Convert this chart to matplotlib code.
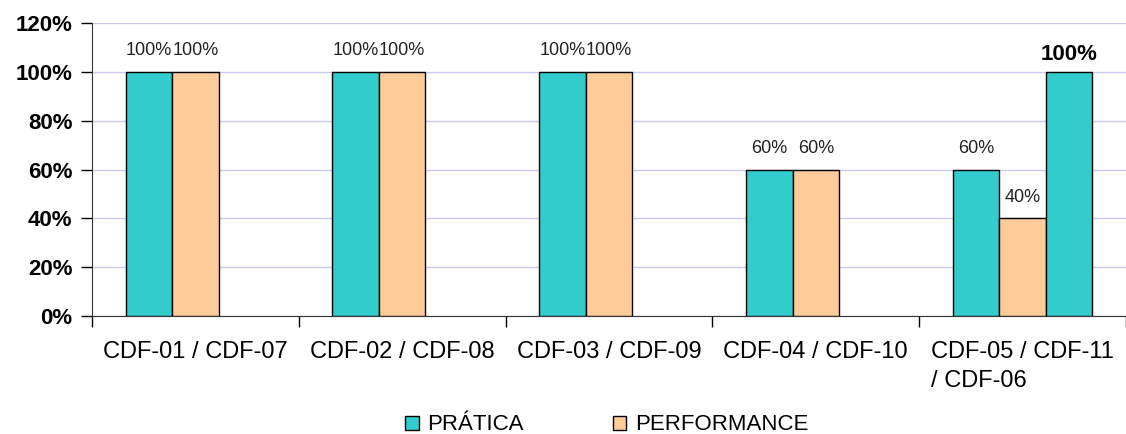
import matplotlib
matplotlib.use("Agg")
import matplotlib.pyplot as plt
import numpy as np
from matplotlib.ticker import FixedLocator, PercentFormatter

categories = ["CDF-01 / CDF-07", "CDF-02 / CDF-08", "CDF-03 / CDF-09",
              "CDF-04 / CDF-10", "CDF-05 / CDF-11\n/ CDF-06"]
pratica = [1.0, 1.0, 1.0, 0.6, 0.6]
performance = [1.0, 1.0, 1.0, 0.6, 0.4]
extra = [np.nan, np.nan, np.nan, np.nan, 1.0]
yticks = [0, 0.2, 0.4, 0.6, 0.8, 1.0, 1.2]

TEAL = "#33CCCC"
PEACH = "#FFCC99"

plt.rcParams['font.family'] = ['Liberation Sans', 'DejaVu Sans']

fig = plt.figure(figsize=(11.26, 4.34), dpi=100)
ax = fig.add_axes([92/1126, 1-316/434, 1034/1126, (316-23)/434])

x = np.arange(len(categories))
w = 0.225
b1 = ax.bar(x - w, pratica, w, color=TEAL, edgecolor="black", linewidth=1, label="PRÁTICA", zorder=3)
b2 = ax.bar(x, performance, w, color=PEACH, edgecolor="black", linewidth=1, label="PERFORMANCE", zorder=3)
b3 = ax.bar(x + w, extra, w, color=TEAL, edgecolor="black", linewidth=1, label="_nolegend_", zorder=3)

for bars, vals in ((b1, pratica), (b2, performance)):
    for r, v in zip(bars, vals):
        ax.annotate(f"{v*100:.0f}%", (r.get_x() + r.get_width()/2, v),
                    xytext=(0, 9), textcoords="offset points", ha="center", va="bottom",
                    fontsize=13, color="#222222")
for r, v in zip(b3, extra):
    if not np.isnan(v):
        ax.annotate(f"{v*100:.0f}%", (r.get_x() + r.get_width()/2, v),
                    xytext=(0, 5), textcoords="offset points", ha="center", va="bottom",
                    fontsize=16, fontweight="bold", color="black")

ax.set_xlim(-0.5, len(categories) - 0.5)
ax.set_ylim(0, 1.2)
ax.set_yticks(yticks)
ax.yaxis.set_major_formatter(PercentFormatter(1.0, decimals=0))
ax.tick_params(axis="y", labelsize=16, length=8, direction="out", width=1, pad=6)
for lab in ax.get_yticklabels():
    lab.set_fontweight("bold")

ax.set_xticks(x)
ax.set_xticklabels(categories, fontsize=17, multialignment="left", linespacing=1.4)
ax.tick_params(axis="x", which="major", length=0, pad=18)
ax.xaxis.set_minor_locator(FixedLocator(np.arange(-0.5, len(categories), 1.0)))
ax.tick_params(axis="x", which="minor", length=8, width=1)

ax.grid(axis="y", color="#C8C8F0", linewidth=1, zorder=0)
ax.set_axisbelow(True)
for s in ("top", "right"):
    ax.spines[s].set_visible(False)
ax.spines["left"].set_color("#333333")
ax.spines["bottom"].set_color("#333333")

fig.legend(handles=[b1, b2], labels=["PRÁTICA", "PERFORMANCE"], loc="center",
           bbox_to_anchor=(607/1126, 1-425/434), ncol=2, frameon=False, fontsize=16,
           handlelength=0.6, handleheight=0.6, handletextpad=0.4, columnspacing=4.0)

fig.savefig("out.png", dpi=100)
